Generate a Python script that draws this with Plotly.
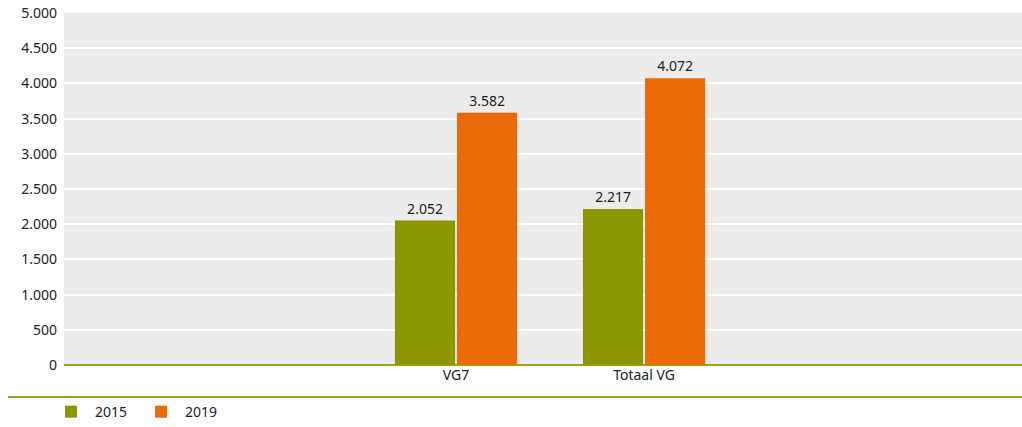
import plotly.graph_objects as go

categories = ["VG7", "Totaal VG"]
years = ["2015", "2019"]
values_2015 = [2052, 2217]
values_2019 = [3582, 4072]
y_ticks = [0, 500, 1000, 1500, 2000, 2500, 3000, 3500, 4000, 4500, 5000]

colors = {"2015": "#8c9600", "2019": "#ec6a06"}
font = "Noto Sans"

fig = go.Figure()
for yr, vals in zip(years, [values_2015, values_2019]):
    fig.add_trace(go.Bar(
        x=categories, y=vals, name=yr,
        marker=dict(color=colors[yr], line=dict(width=0)),
        texttemplate="%{y:,}", textposition="outside",
        textfont=dict(family=font, size=14, color="#222222"),
        cliponaxis=False,
    ))

fig.update_layout(
    width=1022, height=427,
    margin=dict(l=64, r=0, t=13, b=62, autoexpand=False),
    paper_bgcolor="white", plot_bgcolor="#ececec",
    separators=",.",
    barmode="group", bargap=0.34, bargroupgap=0.03,
    font=dict(family=font, size=14, color="#222222"),
    showlegend=True,
    legend=dict(orientation="h", x=-0.0177, xanchor="left",
                yref="container", y=0.035, yanchor="middle",
                bgcolor="rgba(0,0,0,0)",
                font=dict(family=font, size=14, color="#222222"),
                itemwidth=38, entrywidth=37, traceorder="normal"),
    xaxis=dict(type="category", range=[-2.085, 3.01], showgrid=False,
               showline=False, ticks="", tickfont=dict(size=14)),
    yaxis=dict(range=[0, 5000], tickvals=y_ticks, tickformat=",",
               showgrid=True, gridcolor="white", gridwidth=1.5,
               zeroline=True, zerolinecolor="#9aa51a", zerolinewidth=2,
               ticks="", tickfont=dict(size=14), ticklabelstandoff=6),
)

fig.add_shape(type="line", xref="paper", yref="paper",
              x0=-0.0585, x1=1, y0=-0.0909, y1=-0.0909,
              line=dict(color="#9aa51a", width=2))

fig.write_html("out.html", config={"displayModeBar": False},
               post_script="document.body.style.margin='0';document.body.style.overflow='hidden';")
